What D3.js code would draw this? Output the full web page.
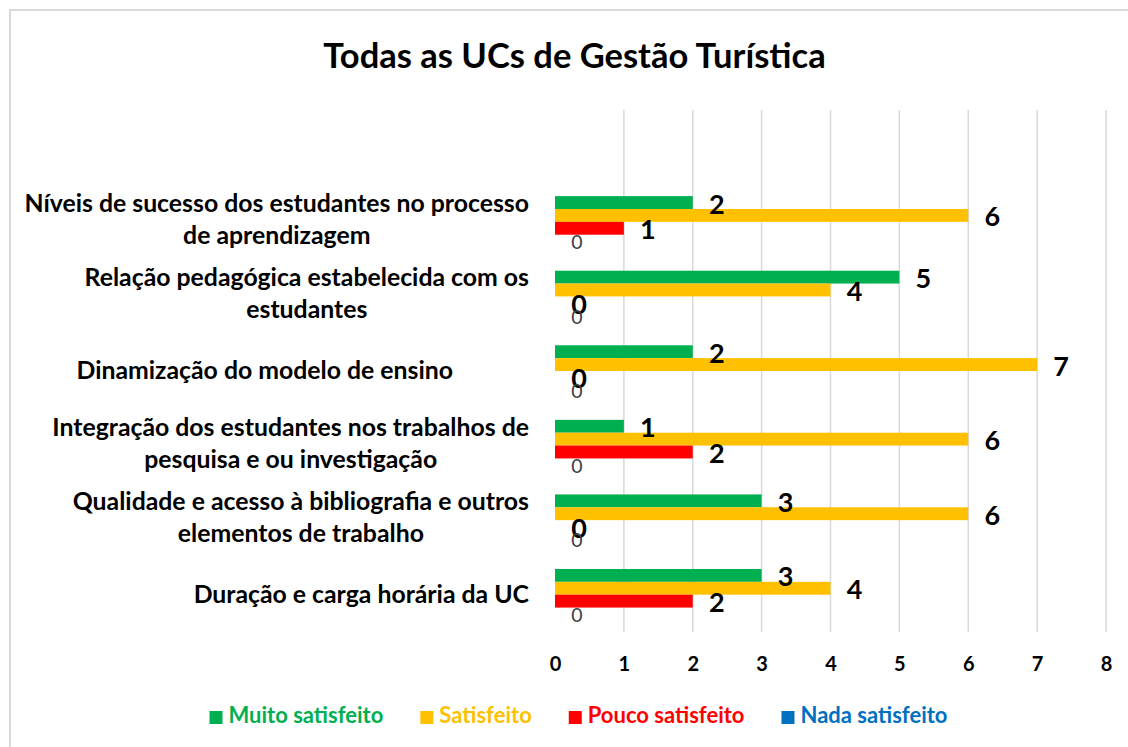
<!DOCTYPE html>
<html><head><meta charset="utf-8">
<script src="https://cdn.jsdelivr.net/npm/d3@7"></script>
<style>body{margin:0;background:#fff}svg{display:block}</style>
</head><body>
<svg id="chart" width="1128" height="747"></svg>
<script>
// ---------- DATA ----------
const chartTitle = "Todas as UCs de Gestão Turística";
const categories = [
  ["Níveis de sucesso dos estudantes no processo", "de aprendizagem"],
  ["Relação pedagógica estabelecida com os", "estudantes"],
  ["Dinamização do modelo de ensino"],
  ["Integração dos estudantes nos trabalhos de", "pesquisa e ou investigação"],
  ["Qualidade e acesso à bibliografia e outros", "elementos de trabalho"],
  ["Duração e carga horária da UC"]
];
const seriesNames = ["Muito satisfeito", "Satisfeito", "Pouco satisfeito", "Nada satisfeito"];
const muitoSatisfeito = [2, 5, 2, 1, 3, 3];
const satisfeito      = [6, 4, 7, 6, 6, 4];
const poucoSatisfeito = [1, 0, 0, 2, 0, 2];
const nadaSatisfeito  = [0, 0, 0, 0, 0, 0];
const xTicks = [0, 1, 2, 3, 4, 5, 6, 7, 8];

// ---------- STYLE / LAYOUT ----------
const colors = ["#00B050", "#FFC000", "#FF0000", "#0070C0"];
const FONT = "Lato, 'Open Sans', sans-serif";
const W = 1128, H = 747;
const plot = {left: 555, right: 1106, top: 110, bottom: 632};
const labelRight = 529;
const labelShift = [0, 0, -76, 0, 0, 0]; // visual offset of single-line label
const seriesValues = [muitoSatisfeito, satisfeito, poucoSatisfeito, nadaSatisfeito];

const svg = d3.select("#chart");
svg.append("rect").attr("x", 0).attr("y", 0).attr("width", W).attr("height", H).attr("fill", "#fff");
// chart border
svg.append("rect").attr("x", 10).attr("y", 10).attr("width", W + 20).attr("height", H + 20)
  .attr("fill", "none").attr("stroke", "#d9d9d9").attr("stroke-width", 2);

// title
svg.append("text").attr("x", 574.5).attr("y", 68).attr("text-anchor", "middle")
  .attr("font-family", FONT).attr("font-weight", 700).attr("font-size", 34.5)
  .attr("fill", "#000").text(chartTitle);

const catKeys = categories.map(c => c.join(" "));
const x = d3.scaleLinear().domain([0, 8]).range([plot.left, plot.right]);
const y = d3.scaleBand().domain(["__blank__", ...catKeys]).range([plot.top, plot.bottom])
  .paddingInner(0.31).paddingOuter(0.155);
const ySub = d3.scaleBand().domain(seriesNames).range([0, y.bandwidth()]);

// gridlines
svg.append("g").selectAll("line").data(xTicks.filter(t => t > 0)).join("line")
  .attr("x1", d => x(d)).attr("x2", d => x(d))
  .attr("y1", plot.top).attr("y2", plot.bottom)
  .attr("stroke", "#d9d9d9").attr("stroke-width", 1.5);

// x axis tick labels
const xAxis = d3.axisBottom(x).tickValues(xTicks).tickSize(0).tickPadding(0).tickFormat(d3.format("d"));
const gx = svg.append("g").attr("transform", `translate(0,${plot.bottom})`).call(xAxis);
gx.select(".domain").remove();
gx.selectAll("text").attr("font-family", FONT).attr("font-weight", 700).attr("font-size", 20)
  .attr("fill", "#000").attr("dy", null).attr("y", 39);

// category labels
const lineGap = 32;
categories.forEach((lines, i) => {
  const key = catKeys[i];
  const c = y(key) + y.bandwidth() / 2;
  const g = svg.append("g");
  const texts = lines.map((ln, j) => g.append("text")
    .attr("font-family", FONT).attr("font-weight", 700).attr("font-size", 24.8)
    .attr("fill", "#000").attr("text-anchor", "middle").text(ln));
  const widths = texts.map(t => t.node().getComputedTextLength());
  const maxW = Math.max(...widths);
  const cx = labelRight - maxW / 2 + labelShift[i];
  const n = lines.length;
  texts.forEach((t, j) => {
    const base = n === 1 ? c + 8 : c - 10 + j * lineGap;
    t.attr("x", cx).attr("y", base);
  });
});

// bars
const barsG = svg.append("g");
seriesNames.forEach((s, si) => {
  const vals = seriesValues[si];
  barsG.append("g").selectAll("rect").data(vals).join("rect")
    .attr("x", x(0))
    .attr("y", (d, i) => y(catKeys[i]) + ySub(s))
    .attr("width", d => x(d) - x(0))
    .attr("height", ySub.bandwidth())
    .attr("fill", colors[si]);
});

// value labels
seriesNames.forEach((s, si) => {
  const vals = seriesValues[si];
  const isNada = si === 3;
  svg.append("g").selectAll("text").data(vals).join("text")
    .attr("x", d => x(d) + (isNada ? 22 : 24))
    .attr("y", (d, i) => y(catKeys[i]) + ySub(s) + ySub.bandwidth() / 2 + (isNada ? 8 : 11))
    .attr("text-anchor", "middle")
    .attr("font-family", FONT)
    .attr("font-weight", isNada ? 400 : 700)
    .attr("font-size", isNada ? 19.5 : 27)
    .attr("fill", isNada ? "#404040" : "#000")
    .text(d => d);
});

// legend
const legG = svg.append("g");
let lx = 0;
const gap = 37;
seriesNames.forEach((s, i) => {
  const g = legG.append("g");
  g.append("rect").attr("x", 0).attr("y", -11).attr("width", 13).attr("height", 13).attr("fill", colors[i]);
  const t = g.append("text").attr("x", 19).attr("y", 1)
    .attr("font-family", FONT).attr("font-weight", 700).attr("font-size", 22)
    .attr("fill", colors[i]).text(s);
  const w = 19 + t.node().getComputedTextLength();
  g.attr("transform", `translate(${lx},0)`);
  lx += w + gap;
});
const totalW = lx - gap;
legG.attr("transform", `translate(${578.5 - totalW / 2},722)`);
</script>
</body></html>
